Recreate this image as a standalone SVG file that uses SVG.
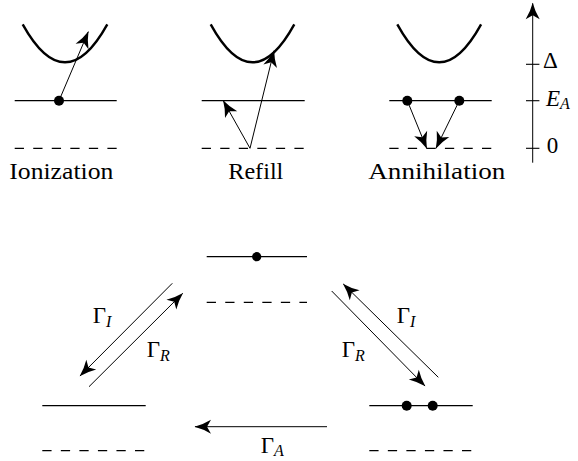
<svg xmlns="http://www.w3.org/2000/svg" width="578" height="461" viewBox="0 0 578 461">
<style>
.bg{fill:#fff}
.lvl{stroke:#000;stroke-width:1.2;fill:none}
.dash{stroke:#000;stroke-width:1.2;fill:none;stroke-dasharray:9.27 9.27}
.band{stroke:#000;stroke-width:2.4;fill:none}
.arr{stroke:#000;stroke-width:1;fill:none;marker-end:url(#ah)}
.tick{stroke:#000;stroke-width:1.1;fill:none}
.dot{fill:#000}
.txt{font-family:'Liberation Serif','DejaVu Serif',serif;font-size:24px;fill:#000}
.math{font-family:'Liberation Serif','DejaVu Serif',serif;font-size:23px;fill:#000}
.sub{font-style:italic;font-size:16px}
</style>
<defs>
<marker id="ah" markerUnits="userSpaceOnUse" viewBox="-18 -9 19 18" refX="0" refY="0" markerWidth="19" markerHeight="18" orient="auto">
<path d="M0.5,0 Q-8,-2.2 -16,-7 L-12,0 L-16,7 Q-8,2.2 0.5,0 Z" fill="#000"/>
</marker>
</defs>
<rect class="bg" x="0" y="0" width="578" height="461"/>

<g id="ionization">
<path class="band" d="M22.7,24.3 Q65,100.3 107.3,24.3"/>
<line class="lvl" x1="14.7" y1="100.7" x2="116.7" y2="100.7"/>
<line class="dash" x1="14.7" y1="148.3" x2="116.7" y2="148.3"/>
<circle class="dot" cx="59" cy="100.7" r="5"/>
<line class="arr" x1="59" y1="100.7" x2="88.3" y2="31.7"/>
<text class="txt" x="9.3" y="179.3" textLength="104" lengthAdjust="spacingAndGlyphs">Ionization</text>
</g>

<g id="refill">
<path class="band" d="M210.7,24.3 Q252.5,100.3 294.3,24.3"/>
<line class="lvl" x1="201.7" y1="100.7" x2="304.7" y2="100.7"/>
<line class="dash" x1="201.7" y1="148.3" x2="304.7" y2="148.3"/>
<line class="arr" x1="250" y1="148.3" x2="223.3" y2="100.7"/>
<line class="arr" x1="250" y1="148.3" x2="274" y2="50.7"/>
<text class="txt" x="228.3" y="179.3" textLength="55" lengthAdjust="spacingAndGlyphs">Refill</text>
</g>

<g id="annihilation">
<path class="band" d="M397.3,24.3 Q439.2,100.3 481.1,24.3"/>
<line class="lvl" x1="389.3" y1="100.7" x2="491.7" y2="100.7"/>
<line class="dash" x1="389.3" y1="148.3" x2="491.7" y2="148.3"/>
<circle class="dot" cx="407.3" cy="100.7" r="5"/>
<circle class="dot" cx="459.3" cy="100.7" r="5"/>
<line class="arr" x1="407.3" y1="100.7" x2="426.7" y2="148.3"/>
<line class="arr" x1="459.3" y1="100.7" x2="436" y2="148.3"/>
<text class="txt" x="368.3" y="179.3" textLength="137" lengthAdjust="spacingAndGlyphs">Annihilation</text>
</g>

<g id="energy-axis">
<line class="arr" x1="532.7" y1="162.7" x2="532.7" y2="3.3"/>
<line class="tick" x1="526" y1="64.3" x2="539.4" y2="64.3"/>
<line class="tick" x1="526" y1="100.7" x2="539.4" y2="100.7"/>
<line class="tick" x1="526" y1="148.3" x2="539.4" y2="148.3"/>
<text class="math" x="543" y="68">Δ</text>
<text class="math" x="546" y="105.7"><tspan font-style="italic">E</tspan><tspan class="sub" dy="3.5">A</tspan></text>
<text class="math" x="546.7" y="152.5">0</text>
</g>

<g id="state-one-carrier">
<line class="lvl" x1="206.7" y1="256.7" x2="307" y2="256.7"/>
<line class="dash" x1="206.7" y1="302.3" x2="307" y2="302.3"/>
<circle class="dot" cx="256.7" cy="256.7" r="4.6"/>
</g>

<g id="state-empty">
<line class="lvl" x1="42.3" y1="405.7" x2="145.7" y2="405.7"/>
<line class="dash" x1="42.3" y1="450.7" x2="145.7" y2="450.7"/>
</g>

<g id="state-two-carriers">
<line class="lvl" x1="369.3" y1="405.7" x2="472.7" y2="405.7"/>
<line class="dash" x1="369.3" y1="450.7" x2="472.7" y2="450.7"/>
<circle class="dot" cx="406.7" cy="405.7" r="5"/>
<circle class="dot" cx="432.7" cy="405.7" r="5"/>
</g>

<g id="connectors">
<line class="arr" x1="172.3" y1="283.3" x2="80" y2="376"/>
<line class="arr" x1="89" y1="386.7" x2="182.7" y2="293.3"/>
<line class="arr" x1="438.3" y1="377.3" x2="343.3" y2="284"/>
<line class="arr" x1="331.7" y1="291" x2="425" y2="386"/>
<line class="arr" x1="327" y1="426.7" x2="195" y2="426.7"/>
<text class="math" x="92.7" y="323.3">Γ<tspan class="sub" dy="3.5">I</tspan></text>
<text class="math" x="146.7" y="357.3">Γ<tspan class="sub" dy="3.5">R</tspan></text>
<text class="math" x="396.7" y="323.3">Γ<tspan class="sub" dy="3.5">I</tspan></text>
<text class="math" x="341.7" y="357.3">Γ<tspan class="sub" dy="3.5">R</tspan></text>
<text class="math" x="260.7" y="453.3">Γ<tspan class="sub" dy="3">A</tspan></text>
</g>
</svg>
